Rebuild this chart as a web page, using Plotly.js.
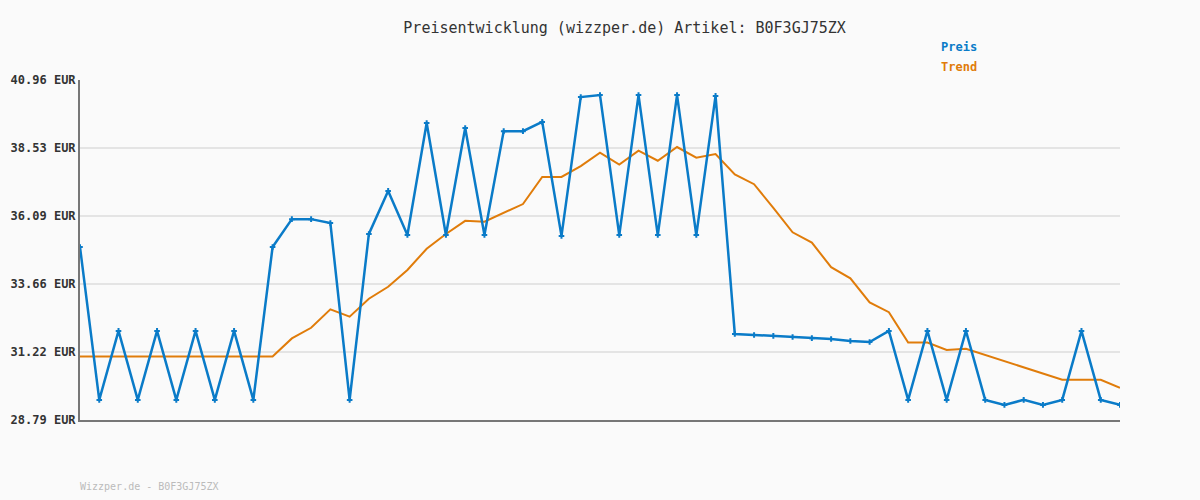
<!DOCTYPE html>
<html>
<head>
<meta charset="utf-8">
<script src="https://cdn.plot.ly/plotly-3.0.1.min.js"></script>
<style>
html,body{margin:0;padding:0;background:#fafafa;}
#chart{width:1200px;height:500px;}
</style>
</head>
<body>
<div id="chart"></div>
<script>
const preis = [34.98,29.51,31.98,29.51,31.98,29.51,31.98,29.51,31.98,29.51,
  34.98,35.98,35.98,35.84,29.51,35.45,36.99,35.41,39.42,35.41,
  39.24,35.41,39.13,39.13,39.46,35.38,40.35,40.42,35.41,40.42,
  35.41,40.42,35.41,40.39,31.87,31.83,31.80,31.76,31.72,31.69,
  31.62,31.58,31.98,29.51,31.98,29.51,31.98,29.51,29.33,29.51,
  29.33,29.51,31.98,29.51,29.33];
const trend = [31.06,31.06,31.06,31.06,31.06,31.06,31.06,31.06,31.06,31.06,
  31.06,31.71,32.09,32.75,32.49,33.13,33.56,34.16,34.92,35.45,
  35.92,35.89,36.21,36.52,37.49,37.49,37.88,38.36,37.93,38.43,
  38.07,38.56,38.18,38.31,37.58,37.23,36.38,35.51,35.14,34.26,
  33.86,33.00,32.65,31.56,31.56,31.30,31.34,31.12,30.88,30.68,
  30.46,30.23,30.23,30.23,29.94];
const tickVals = [28.79,31.22,33.66,36.09,38.53,40.96];
const tickText = tickVals.map(v => v.toFixed(2) + ' EUR');
const idx = preis.map((_, i) => i);

const mono = 'DejaVu Sans Mono, monospace';
const blue = '#0a7bc8';
const orange = '#e07c0a';

const traces = [
  {x: idx, y: trend, type: 'scatter', mode: 'lines', name: 'Trend',
   line: {color: orange, width: 2}, hoverinfo: 'skip'},
  {x: idx, y: preis, type: 'scatter', mode: 'lines+markers', name: 'Preis',
   line: {color: blue, width: 2.5},
   marker: {symbol: 'cross-thin', size: 4, color: blue, line: {color: blue, width: 2}}}
];

const layout = {
  width: 1200, height: 500,
  paper_bgcolor: '#fafafa', plot_bgcolor: '#fafafa',
  margin: {l: 80, r: 80, t: 80, b: 80},
  showlegend: false,
  title: {text: 'Preisentwicklung (wizzper.de) Artikel: B0F3GJ75ZX',
    font: {family: mono, size: 15, color: '#333'}, x: 0.5205, xanchor: 'center', y: 0.944, yanchor: 'middle'},
  xaxis: {range: [0, preis.length - 1], showgrid: false, zeroline: false,
    showticklabels: false, ticks: '', showline: true, linecolor: '#777', linewidth: 2, fixedrange: true},
  yaxis: {range: [28.79, 40.96], tickvals: tickVals, ticktext: tickText,
    showgrid: true, gridcolor: '#e4e4e4', gridwidth: 2, zeroline: false,
    showline: true, linecolor: '#777', linewidth: 2, ticks: '', ticklen: 0,
    tickfont: {family: mono, size: 12, color: '#333', weight: 'bold'}, fixedrange: true},
  annotations: [
    {xref: 'paper', yref: 'paper', x: 0.826, y: 1.097, xanchor: 'left', yanchor: 'middle',
     text: '<b>Preis</b>', showarrow: false, font: {family: mono, size: 12, color: blue}},
    {xref: 'paper', yref: 'paper', x: 0.826, y: 1.038, xanchor: 'left', yanchor: 'middle',
     text: '<b>Trend</b>', showarrow: false, font: {family: mono, size: 12, color: orange}},
    {xref: 'paper', yref: 'paper', x: -0.002, y: -0.197, xanchor: 'left', yanchor: 'middle',
     text: 'Wizzper.de - B0F3GJ75ZX', showarrow: false, font: {family: mono, size: 10, color: '#bbb'}}
  ]
};

Plotly.newPlot('chart', traces, layout, {displayModeBar: false, staticPlot: true});
</script>
</body>
</html>
